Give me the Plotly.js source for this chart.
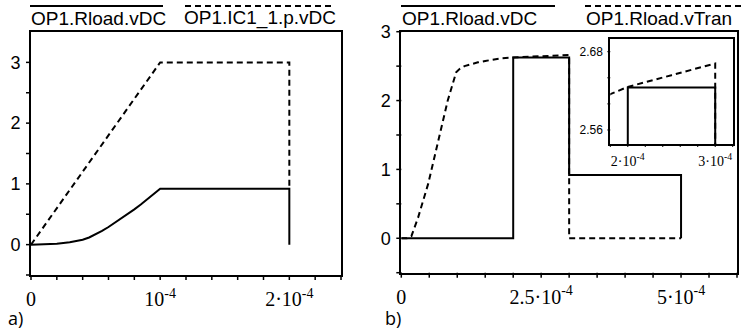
<!DOCTYPE html>
<html>
<head>
<meta charset="utf-8">
<script src="https://cdn.plot.ly/plotly-3.0.1.min.js"></script>
<style>html,body{margin:0;padding:0;background:#fff;}#chart{width:745px;height:333px;}</style>
</head>
<body>
<div id="chart"></div>
<script>
// ---- Data ----
// Panel a)
const aSolidX = [0, 0.1e-4, 0.2e-4, 0.3e-4, 0.35e-4, 0.4e-4, 0.45e-4, 0.5e-4, 0.55e-4, 0.6e-4, 0.65e-4, 0.7e-4, 0.75e-4, 0.8e-4, 0.85e-4, 0.9e-4, 0.95e-4, 1.0e-4, 2.0e-4, 2.0e-4];
const aSolidY = [0, 0.003, 0.014, 0.04, 0.058, 0.08, 0.118, 0.165, 0.225, 0.29, 0.36, 0.43, 0.505, 0.58, 0.66, 0.745, 0.83, 0.92, 0.92, 0];
const aDashX = [0, 1.0e-4, 2.0e-4, 2.0e-4];
const aDashY = [0, 3.0, 3.0, 0.92];
const aName1 = "OP1.Rload.vDC";
const aName2 = "OP1.IC1_1.p.vDC";
const aXTickVals = [0, 0.2e-4, 0.4e-4, 0.6e-4, 0.8e-4, 1e-4, 1.2e-4, 1.4e-4, 1.6e-4, 1.8e-4, 2e-4, 2.2e-4, 2.4e-4];
const aXTickText = ["0", "", "", "", "", "10<sup>-4</sup>", "", "", "", "", "2·10<sup>-4</sup>", "", ""];
const aYTickVals = [-0.5, 0, 0.5, 1, 1.5, 2, 2.5, 3];
const aYTickText = ["", "0", "", "1", "", "2", "", "3"];

// Panel b)
const bSolidX = [0, 2.0e-4, 2.0e-4, 3.0e-4, 3.0e-4, 5.0e-4, 5.0e-4];
const bSolidY = [0, 0, 2.625, 2.625, 0.92, 0.92, 0];
const bDashX = [0, 0.1e-4, 0.18e-4, 0.30e-4, 0.48e-4, 0.66e-4, 0.83e-4, 0.98e-4, 1.05e-4, 1.13e-4, 1.25e-4, 1.37e-4, 1.5e-4, 1.66e-4, 1.8e-4, 2.0e-4, 2.5e-4, 3.0e-4, 3.0e-4, 5.0e-4];
const bDashY = [0, 0, 0.03, 0.30, 0.79, 1.41, 2.0, 2.41, 2.465, 2.50, 2.53, 2.555, 2.575, 2.595, 2.615, 2.626, 2.644, 2.662, 0, 0];
const bName1 = "OP1.Rload.vDC";
const bName2 = "OP1.Rload.vTran";
const bXTickVals = [0, 0.5e-4, 1e-4, 1.5e-4, 2e-4, 2.5e-4, 3e-4, 3.5e-4, 4e-4, 4.5e-4, 5e-4, 5.5e-4, 6e-4];
const bXTickText = ["0", "", "", "", "", "2.5·10<sup>-4</sup>", "", "", "", "", "5·10<sup>-4</sup>", "", ""];
const bYTickVals = [-0.5, 0, 0.5, 1, 1.5, 2, 2.5, 3];
const bYTickText = ["", "0", "", "1", "", "2", "", "3"];

// Inset of panel b)
const iXTickVals = [1.8e-4, 2e-4, 2.2e-4, 2.4e-4, 2.6e-4, 2.8e-4, 3e-4, 3.2e-4];
const iXTickText = ["", "2·10<sup>-4</sup>", "", "", "", "", "3·10<sup>-4</sup>", ""];
const iYTickVals = [2.56, 2.60, 2.64, 2.68];
const iYTickText = ["2.56", "", "", "2.68"];

const panelLabels = ["a)", "b)"];

// ---- Styling ----
const W = 745, H = 333;
const px = v => v / W;
const py = v => 1 - v / H;
const solid = {color: "#000", width: 2};
const dashed = {color: "#000", width: 2, dash: "6px,4px"};
const sans = '"Liberation Sans", Arial, sans-serif';
const serif = '"Liberation Serif", "Times New Roman", serif';

// plot-area boxes in pixels: [left, right, top, bottom]
const boxA = [31, 341, 32, 275];
const boxB = [401.3, 737, 31.7, 272.7];
const boxI = [610.3, 732.7, 39.3, 144];

function axis(domain, range, tv, tt, font, tlen) {
  return {domain, range, tickmode: "array", tickvals: tv, ticktext: tt,
    ticks: "outside", ticklen: tlen, tickwidth: 1.5, tickcolor: "rgba(0,0,0,0)",
    showline: true, linewidth: 2, linecolor: "#000", mirror: true,
    showgrid: false, zeroline: false, fixedrange: true, tickfont: font};
}

const traces = [
  {x: aDashX, y: aDashY, xaxis: "x", yaxis: "y", mode: "lines", line: dashed, hoverinfo: "skip"},
  {x: aSolidX, y: aSolidY, xaxis: "x", yaxis: "y", mode: "lines", line: solid, hoverinfo: "skip"},
  {x: bDashX, y: bDashY, xaxis: "x2", yaxis: "y2", mode: "lines", line: dashed, hoverinfo: "skip"},
  {x: bSolidX, y: bSolidY, xaxis: "x2", yaxis: "y2", mode: "lines", line: solid, hoverinfo: "skip"},
  {x: bDashX, y: bDashY, xaxis: "x3", yaxis: "y3", mode: "lines", line: dashed, hoverinfo: "skip"},
  {x: bSolidX, y: bSolidY, xaxis: "x3", yaxis: "y3", mode: "lines", line: solid, hoverinfo: "skip"}
];

const xFont = {family: serif, size: 20, color: "#000"};
const yFont = {family: sans, size: 18, color: "#000"};

const legendShapes = [
  {type: "line", xref: "paper", yref: "paper", x0: px(30), x1: px(163), y0: py(6), y1: py(6), line: {color: "#000", width: 2}},
  {type: "line", xref: "paper", yref: "paper", x0: px(185), x1: px(332), y0: py(6), y1: py(6), line: {color: "#000", width: 2, dash: "6px,4px"}},
  {type: "line", xref: "paper", yref: "paper", x0: px(401), x1: px(555), y0: py(6), y1: py(6), line: {color: "#000", width: 2}},
  {type: "line", xref: "paper", yref: "paper", x0: px(585), x1: px(745), y0: py(6), y1: py(6), line: {color: "#000", width: 2, dash: "6px,4px"}}
];

const layout = {
  width: W, height: H,
  margin: {l: 0, r: 0, t: 0, b: 0},
  paper_bgcolor: "#fff", plot_bgcolor: "#fff",
  showlegend: false,
  xaxis: Object.assign(axis([px(boxA[0]), px(boxA[1])], [0, 2.4e-4], aXTickVals, aXTickText, xFont, 5), {anchor: "y"}),
  yaxis: Object.assign(axis([py(boxA[3]), py(boxA[2])], [-0.5, 3.5], aYTickVals, aYTickText, yFont, 5), {anchor: "x"}),
  xaxis2: Object.assign(axis([px(boxB[0]), px(boxB[1])], [0, 6e-4], bXTickVals, bXTickText, xFont, 5), {anchor: "y2"}),
  yaxis2: Object.assign(axis([py(boxB[3]), py(boxB[2])], [-0.5, 3.0], bYTickVals, bYTickText, yFont, 5), {anchor: "x2"}),
  xaxis3: Object.assign(axis([px(boxI[0]), px(boxI[1])], [1.8e-4, 3.2e-4], iXTickVals, iXTickText, {family: serif, size: 14, color: "#000"}, 3), {anchor: "y3"}),
  yaxis3: Object.assign(axis([py(boxI[3]), py(boxI[2])], [2.5385, 2.699], iYTickVals, iYTickText, {family: sans, size: 12, color: "#000"}, 3), {anchor: "x3"}),
  shapes: legendShapes,
  annotations: [
    {text: aName1, xref: "paper", yref: "paper", x: px(29), y: py(18), xanchor: "left", yanchor: "middle", showarrow: false, font: {family: sans, size: 19, color: "#000"}},
    {text: aName2, xref: "paper", yref: "paper", x: px(182), y: py(18), xanchor: "left", yanchor: "middle", showarrow: false, font: {family: sans, size: 19, color: "#000"}},
    {text: bName1, xref: "paper", yref: "paper", x: px(400), y: py(18), xanchor: "left", yanchor: "middle", showarrow: false, font: {family: sans, size: 19, color: "#000"}},
    {text: bName2, xref: "paper", yref: "paper", x: px(584), y: py(18), xanchor: "left", yanchor: "middle", showarrow: false, font: {family: sans, size: 19, color: "#000"}},
    {text: panelLabels[0], xref: "paper", yref: "paper", x: px(6), y: py(318), xanchor: "left", yanchor: "middle", showarrow: false, font: {family: '"Open Sans", sans-serif', size: 18, color: "#000"}},
    {text: panelLabels[1], xref: "paper", yref: "paper", x: px(383), y: py(318), xanchor: "left", yanchor: "middle", showarrow: false, font: {family: '"Open Sans", sans-serif', size: 18, color: "#000"}}
  ]
};

// Tick marks: placed through each axis' own scale (c2p), then drawn as paper shapes.
function addTicks(fl, sh, xa, ya, xvals, yvals, len, w) {
  const xA = fl[xa], yA = fl[ya];
  if (!xA || !yA || !xA.c2p || !yA.c2p) return;
  const bottom = yA._offset + yA._length;
  const left = xA._offset;
  xvals.forEach(function (v) {
    const p = xA._offset + xA.c2p(v);
    sh.push({type: "line", xref: "paper", yref: "paper", x0: p / W, x1: p / W,
      y0: 1 - bottom / H, y1: 1 - (bottom + len) / H, line: {color: "#000", width: w}});
  });
  yvals.forEach(function (v) {
    const p = yA._offset + yA.c2p(v);
    sh.push({type: "line", xref: "paper", yref: "paper", y0: 1 - p / H, y1: 1 - p / H,
      x0: left / W, x1: (left - len) / W, line: {color: "#000", width: w}});
  });
}

Plotly.newPlot("chart", traces, layout, {staticPlot: true, displayModeBar: false}).then(function (gd) {
  const fl = gd._fullLayout;
  const sh = legendShapes.slice();
  addTicks(fl, sh, "xaxis", "yaxis", aXTickVals, aYTickVals, 5, 1.5);
  addTicks(fl, sh, "xaxis2", "yaxis2", bXTickVals, bYTickVals, 5, 1.5);
  addTicks(fl, sh, "xaxis3", "yaxis3", iXTickVals, iYTickVals, 3, 1);
  return Plotly.relayout(gd, {shapes: sh});
});
</script>
</body>
</html>
